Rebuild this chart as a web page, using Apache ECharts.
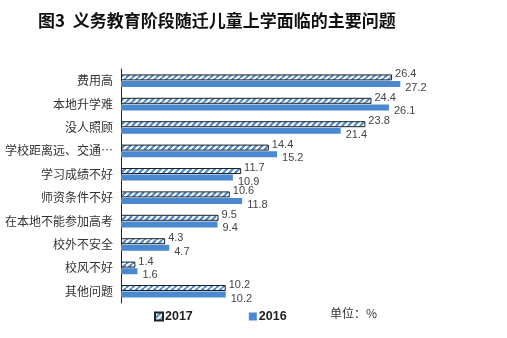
<!DOCTYPE html>
<html><head><meta charset="utf-8">
<script src="https://cdn.jsdelivr.net/npm/echarts@6/dist/echarts.min.js"></script>
<style>html,body{margin:0;padding:0;background:#fff}#c{width:507px;height:338px}</style>
</head><body><div id="c"></div>
<script>
var categories = ['费用高','本地升学难','没人照顾','学校距离远、交通不便','学习成绩不好','师资条件不好','在本地不能参加高考','校外不安全','校风不好','其他问题'];
var values2017 = [26.4,24.4,23.8,14.4,11.7,10.6,9.5,4.3,1.4,10.2];
var values2016 = [27.2,26.1,21.4,15.2,10.9,11.8,9.4,4.7,1.6,10.2];
var seriesNames = ['2017','2016'];

var blue = '#4a89d0';
var cv = document.createElement('canvas');
cv.width = 6; cv.height = 6;
var ctx = cv.getContext('2d');
ctx.fillStyle = '#fff'; ctx.fillRect(0,0,6,6);
ctx.strokeStyle = blue; ctx.lineWidth = 2.2;
for (var k = -6; k <= 12; k += 6) {
  ctx.beginPath(); ctx.moveTo(k, 6); ctx.lineTo(k + 6, 0); ctx.stroke();
}

var chart = echarts.init(document.getElementById('c'));
chart.setOption({
  animation: false,
  title: {
    text: '图3  义务教育阶段随迁儿童上学面临的主要问题',
    left: 33, top: 7,
    textStyle: {fontSize: 17, fontWeight: 'bold', color: '#111', fontFamily: 'Noto Sans CJK SC'}
  },
  grid: {left: 121, top: 69, height: 234, right: 78},
  xAxis: {type: 'value', min: 0, max: 30, show: false},
  yAxis: {
    type: 'category', data: categories, inverse: true,
    axisLine: {show: true, lineStyle: {color: '#222', width: 1}},
    axisTick: {show: false},
    axisLabel: {fontSize: 12, color: '#333', margin: 8, width: 114, overflow: 'truncate', ellipsis: '…', fontFamily: 'Noto Sans CJK SC'}
  },
  legend: {
    left: 149, top: 305, itemWidth: 8, itemHeight: 8, itemGap: 56,
    icon: 'rect',
    data: seriesNames,
    textStyle: {fontSize: 12.5, fontWeight: 'bold', color: '#222', fontFamily: 'Liberation Sans', padding: [0,0,0,-3]}
  },
  graphic: [{
    type: 'text', left: 330, top: 307,
    style: {text: '单位：%', fontSize: 12, fill: '#333', fontFamily: 'Noto Sans CJK SC'}
  }],
  series: [{
    name: seriesNames[0], type: 'bar', data: values2017,
    barWidth: 6, barGap: '10%',
    itemStyle: {color: {image: cv, repeat: 'repeat'}, borderColor: '#222', borderWidth: 1},
    label: {show: true, position: 'right', distance: 3, offset: [0, -3], fontSize: 11, color: '#444', fontFamily: 'Liberation Sans'}
  }, {
    name: seriesNames[1], type: 'bar', data: values2016,
    barWidth: 6, barGap: '10%',
    itemStyle: {color: blue},
    label: {show: true, position: 'right', distance: 5, offset: [0, 4], fontSize: 11, color: '#444', fontFamily: 'Liberation Sans'}
  }]
});
</script></body></html>
